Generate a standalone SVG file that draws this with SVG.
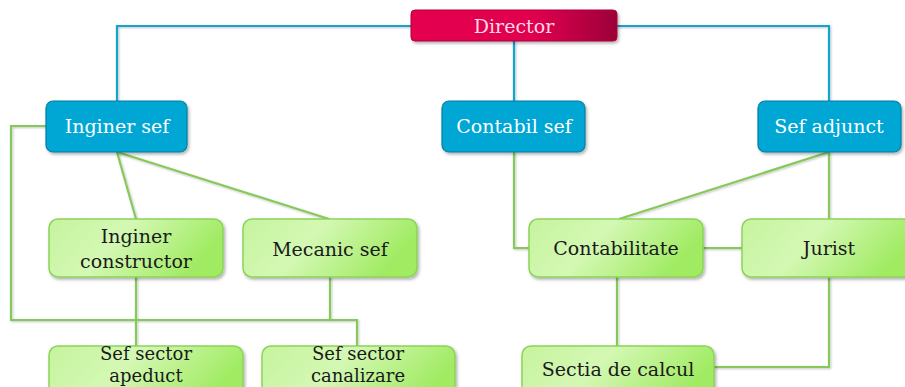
<svg xmlns="http://www.w3.org/2000/svg" width="905" height="387" viewBox="0 0 905 387">
  <defs>
    <linearGradient id="gRed" x1="0" y1="0" x2="1" y2="0">
      <stop offset="0" stop-color="#e4004f"/>
      <stop offset="0.6" stop-color="#e0004e"/>
      <stop offset="1" stop-color="#9c0038"/>
    </linearGradient>
    <linearGradient id="gGreen" x1="0" y1="0" x2="1" y2="0.3">
      <stop offset="0" stop-color="#c6f49e"/>
      <stop offset="0.45" stop-color="#d4f8b4"/>
      <stop offset="1" stop-color="#a0eb62"/>
    </linearGradient>
    <filter id="shadow" x="-10%" y="-20%" width="125%" height="150%">
      <feDropShadow dx="1.5" dy="2" stdDeviation="1.5" flood-color="#000" flood-opacity="0.3"/>
    </filter>
    <filter id="lineShadow" x="-5%" y="-5%" width="110%" height="110%">
      <feDropShadow dx="1" dy="1" stdDeviation="0.8" flood-color="#000" flood-opacity="0.25"/>
    </filter>
  </defs>
  <style>
    .red { fill: url(#gRed); stroke: #b0003e; stroke-width: 1; filter: url(#shadow); }
    .blue { fill: #00a7d5; stroke: #0b7fa2; stroke-width: 1.2; filter: url(#shadow); }
    .green { fill: url(#gGreen); stroke: #8ad35a; stroke-width: 1.5; filter: url(#shadow); }
    .lblue { fill: none; stroke: #13a3cc; stroke-width: 2.2; }
    .lgreen { fill: none; stroke: #86c95a; stroke-width: 2.2; }
    text { font-family: "DejaVu Serif", "Liberation Serif", serif; font-size: 19px; text-anchor: middle; }
    .light { fill: #ffffff; }
    .pink { fill: #ffd6e6; }
    .dark { fill: #1a1a1a; }
    .tight { font-size: 18px; }
  </style>

  <!-- connectors -->
  <g id="connectors">
    <g filter="url(#lineShadow)">
      <polyline class="lblue" points="411,26 117,26 117,101"/>
      <polyline class="lblue" points="617,26 829,26 829,101"/>
      <line class="lblue" x1="514" y1="41" x2="514" y2="101"/>
    </g>
    <g filter="url(#lineShadow)">
      <polyline class="lgreen" points="46,126 11,126 11,320 357,320 357,346"/>
      <line class="lgreen" x1="117" y1="152" x2="136" y2="219"/>
      <line class="lgreen" x1="117" y1="152" x2="329" y2="219"/>
      <line class="lgreen" x1="136" y1="277" x2="136" y2="346"/>
      <line class="lgreen" x1="330" y1="277" x2="330" y2="320"/>
      <polyline class="lgreen" points="514,152 514,248 529,248"/>
      <line class="lgreen" x1="829" y1="152" x2="619" y2="219"/>
      <line class="lgreen" x1="829" y1="152" x2="829" y2="219"/>
      <line class="lgreen" x1="703" y1="248" x2="742" y2="248"/>
      <line class="lgreen" x1="617" y1="277" x2="617" y2="346"/>
      <polyline class="lgreen" points="714,367 829,367 829,277"/>
    </g>
  </g>

  <g id="director">
    <rect class="red" x="411" y="10" width="206" height="31" rx="4"/>
    <text class="pink" x="514" y="33">Director</text>
  </g>

  <g id="inginer-sef">
    <rect class="blue" x="46" y="101" width="141" height="51" rx="7"/>
    <text class="light" x="117" y="133">Inginer sef</text>
  </g>
  <g id="contabil-sef">
    <rect class="blue" x="442" y="101" width="143" height="51" rx="7"/>
    <text class="light" x="514" y="133">Contabil sef</text>
  </g>
  <g id="sef-adjunct">
    <rect class="blue" x="758" y="101" width="143" height="51" rx="7"/>
    <text class="light" x="829" y="133">Sef adjunct</text>
  </g>

  <g id="inginer-constructor">
    <rect class="green" x="49" y="219" width="174" height="58" rx="9"/>
    <text class="dark" x="136" y="243">Inginer</text>
    <text class="dark" x="136" y="268">constructor</text>
  </g>
  <g id="mecanic-sef">
    <rect class="green" x="243" y="219" width="174" height="58" rx="9"/>
    <text class="dark" x="330" y="256">Mecanic sef</text>
  </g>
  <g id="contabilitate">
    <rect class="green" x="529" y="219" width="174" height="58" rx="9"/>
    <text class="dark" x="616" y="255">Contabilitate</text>
  </g>
  <g id="jurist">
    <rect class="green" x="742" y="219" width="174" height="58" rx="9"/>
    <text class="dark" x="829" y="255">Jurist</text>
  </g>

  <!-- bottom row runs past the lower edge of the canvas -->
  <g id="sef-sector-apeduct">
    <rect class="green" x="49" y="346" width="194" height="60" rx="9"/>
    <text class="dark tight" x="146" y="360">Sef sector</text>
    <text class="dark tight" x="146" y="382">apeduct</text>
  </g>
  <g id="sef-sector-canalizare">
    <rect class="green" x="262" y="346" width="193" height="60" rx="9"/>
    <text class="dark tight" x="358" y="360">Sef sector</text>
    <text class="dark tight" x="358" y="382">canalizare</text>
  </g>
  <g id="sectia-de-calcul">
    <rect class="green" x="522" y="346" width="192" height="60" rx="9"/>
    <text class="dark" x="618" y="376">Sectia de calcul</text>
  </g>
</svg>
